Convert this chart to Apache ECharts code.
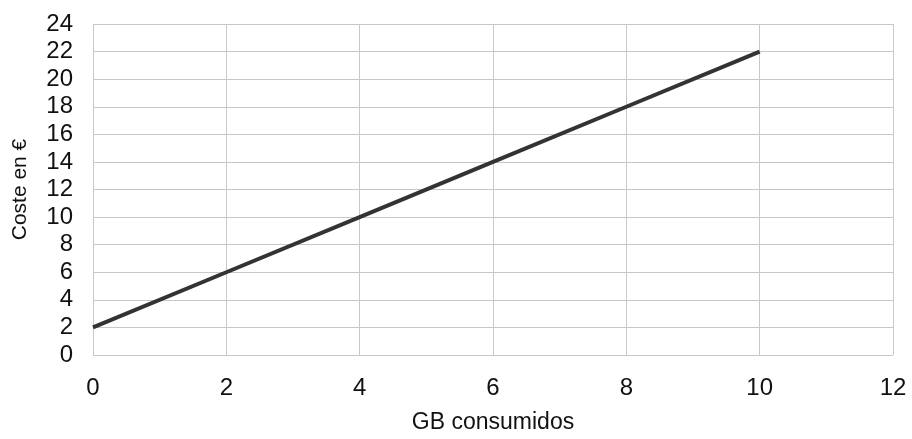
<!DOCTYPE html>
<html>
<head>
<meta charset="utf-8">
<script src="https://cdn.jsdelivr.net/npm/echarts@6/dist/echarts.min.js"></script>
<style>html,body{margin:0;padding:0;background:#fff;}#c{width:912px;height:439px;}</style>
</head>
<body>
<div id="c"></div>
<script>
const gbValues = [0, 2, 4, 6, 8, 10];
const costValues = [2, 6, 10, 14, 18, 22];
const xAxisName = 'GB consumidos';
const yAxisName = 'Coste en €';

const chart = echarts.init(document.getElementById('c'), null, {renderer: 'canvas'});
const font = 'Liberation Sans, Arial, sans-serif';
chart.setOption({
  animation: false,
  backgroundColor: '#fff',
  grid: {left: 93, right: 19, top: 24, bottom: 70, containLabel: false},
  xAxis: {
    type: 'value', min: 0, max: 12, interval: 2,
    name: xAxisName, nameLocation: 'middle', nameGap: 56,
    nameTextStyle: {color: '#111', fontSize: 23, fontFamily: font},
    axisLine: {show: false}, axisTick: {show: false},
    axisLabel: {color: '#111', fontSize: 24, fontFamily: font, margin: 21},
    splitLine: {show: true, lineStyle: {color: '#c8c8c8', width: 1}}
  },
  yAxis: {
    type: 'value', min: 0, max: 24, interval: 2,
    name: yAxisName, nameLocation: 'middle', nameGap: 62, nameRotate: 90,
    nameTextStyle: {color: '#111', fontSize: 21, fontFamily: font},
    axisLine: {show: false}, axisTick: {show: false},
    axisLabel: {color: '#111', fontSize: 24, fontFamily: font, margin: 20},
    splitLine: {show: true, lineStyle: {color: '#c8c8c8', width: 1}}
  },
  series: [{
    type: 'line',
    data: gbValues.map((g, i) => [g, costValues[i]]),
    showSymbol: false,
    lineStyle: {color: '#333', width: 4},
    silent: true
  }]
});
</script>
</body>
</html>
